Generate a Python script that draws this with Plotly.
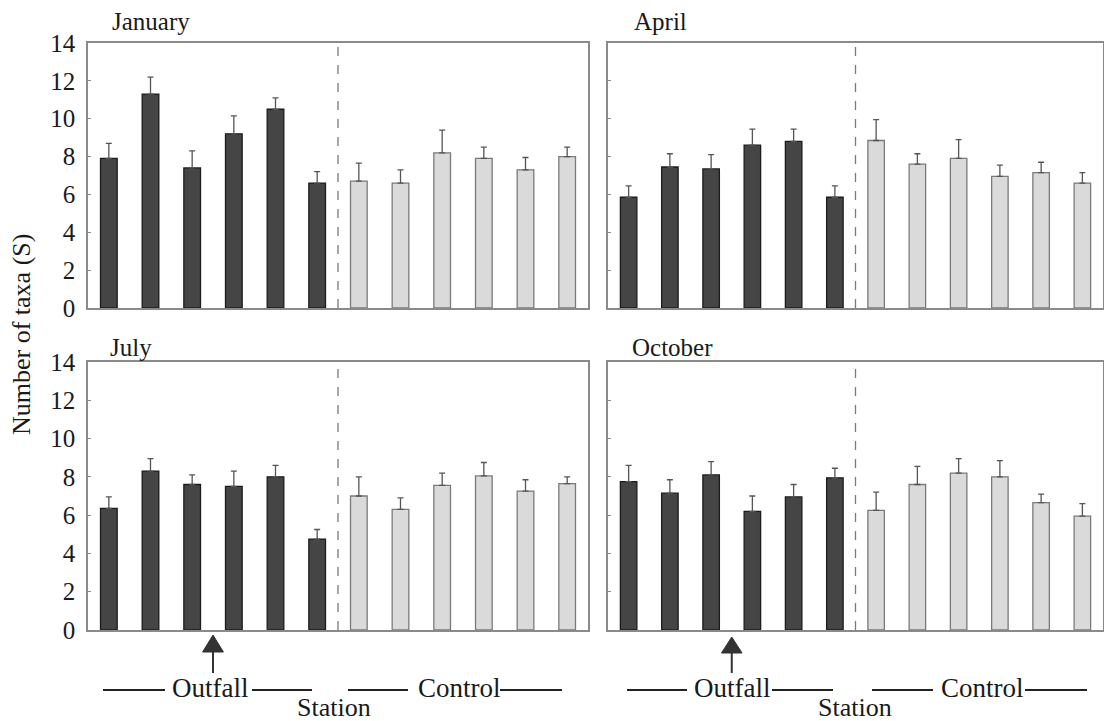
import plotly.graph_objects as go

# ---- data: mean number of taxa (S) and standard error per station ----
stations = list(range(1, 13))          # stations 1-6 outfall, 7-12 control
n_outfall = 6
months = ["January", "April", "July", "October"]

jan_mean = [7.9, 11.3, 7.4, 9.2, 10.5, 6.6, 6.7, 6.6, 8.2, 7.9, 7.3, 8.0]
jan_se = [0.8, 0.9, 0.9, 0.95, 0.6, 0.6, 0.95, 0.7, 1.2, 0.6, 0.65, 0.5]
apr_mean = [5.85, 7.45, 7.35, 8.6, 8.8, 5.85, 8.85, 7.6, 7.9, 6.95, 7.15, 6.6]
apr_se = [0.6, 0.7, 0.75, 0.85, 0.65, 0.6, 1.1, 0.55, 1.0, 0.6, 0.55, 0.55]
jul_mean = [6.35, 8.3, 7.6, 7.5, 8.0, 4.75, 7.0, 6.3, 7.55, 8.05, 7.25, 7.65]
jul_se = [0.6, 0.65, 0.5, 0.8, 0.6, 0.5, 1.0, 0.6, 0.65, 0.7, 0.6, 0.35]
oct_mean = [7.75, 7.15, 8.1, 6.2, 6.95, 7.95, 6.25, 7.6, 8.2, 8.0, 6.65, 5.95]
oct_se = [0.85, 0.7, 0.7, 0.8, 0.65, 0.5, 0.95, 0.95, 0.75, 0.85, 0.45, 0.65]

y_ticks = [0, 2, 4, 6, 8, 10, 12, 14]
outfall_position = 2.5                 # outfall location between stations 3 and 4

W, H = 1104, 721
FONT = "Liberation Serif, Times New Roman, serif"
TXT = "#1a1a1a"
FRAME = "#8a8a8a"
DARK_FILL, DARK_LINE = "#454545", "#1c1c1c"
LIGHT_FILL, LIGHT_LINE = "#dadada", "#7a7a7a"


def px(x):
    return x / W


def py(y):
    return 1 - y / H


# panel domains (paper fractions)
dom_x = {1: [px(88), px(588)], 2: [px(608), px(1103)],
         3: [px(88), px(588)], 4: [px(608), px(1103)]}
dom_y = {1: [py(308), py(43)], 2: [py(308), py(43)],
         3: [py(630), py(362)], 4: [py(630), py(362)]}

panels = [(jan_mean, jan_se), (apr_mean, apr_se), (jul_mean, jul_se), (oct_mean, oct_se)]

fig = go.Figure()
x_idx = [s - 1 for s in stations]

for k, (mean, se) in enumerate(panels, start=1):
    xa = "x" if k == 1 else f"x{k}"
    ya = "y" if k == 1 else f"y{k}"
    groups = [
        (x_idx[:n_outfall], mean[:n_outfall], se[:n_outfall], DARK_FILL, DARK_LINE),
        (x_idx[n_outfall:], mean[n_outfall:], se[n_outfall:], LIGHT_FILL, LIGHT_LINE),
    ]
    for xs, ms, es, fill, line in groups:
        fig.add_trace(go.Bar(
            x=xs, y=ms, width=0.4, xaxis=xa, yaxis=ya,
            marker=dict(color=fill, line=dict(color=line, width=1.3)),
            error_y=dict(type="data", symmetric=False, array=es,
                         arrayminus=[0] * len(es), color="#555555",
                         thickness=1.3, width=3),
            showlegend=False, hoverinfo="skip",
        ))

layout = dict(
    width=W, height=H,
    margin=dict(l=0, r=0, t=0, b=0, autoexpand=False),
    paper_bgcolor="white", plot_bgcolor="white",
    barmode="overlay", showlegend=False,
    font=dict(family=FONT, color=TXT, size=24),
)
for k in range(1, 5):
    sx = "" if k == 1 else str(k)
    layout[f"xaxis{sx}"] = dict(
        domain=dom_x[k], range=[-0.5, 11.5], anchor=f"y{sx}",
        showticklabels=False, showgrid=False, zeroline=False,
        showline=True, mirror=True, linecolor=FRAME, linewidth=1.6,
        ticks="", fixedrange=True, automargin=False,
    )
    layout[f"yaxis{sx}"] = dict(
        domain=dom_y[k], range=[0, 14], anchor=f"x{sx}",
        tickvals=y_ticks, showticklabels=(k in (1, 3)),
        tickfont=dict(family=FONT, size=25, color=TXT),
        ticks="inside", ticklen=3, tickcolor=FRAME, ticklabelstandoff=6,
        showgrid=False, zeroline=False,
        showline=True, mirror=True, linecolor=FRAME, linewidth=1.6,
        fixedrange=True, automargin=False,
    )
fig.update_layout(**layout)

# dashed divider between outfall and control stations
for k in range(1, 5):
    sx = "" if k == 1 else str(k)
    fig.add_shape(type="line", xref=f"x{sx}", yref=f"y{sx} domain",
                  x0=5.5, x1=5.5, y0=0, y1=1,
                  line=dict(color="#7a7a7a", width=1.3, dash="dash"))

# month titles
titles = [(months[0], 110, 22), (months[1], 632, 22), (months[2], 108, 347), (months[3], 630, 347)]
for text, x, y in titles:
    fig.add_annotation(text=text, x=px(x), y=py(y), xref="paper", yref="paper",
                       xanchor="left", yanchor="middle", showarrow=False,
                       font=dict(family=FONT, size=25, color=TXT))

# y-axis title
fig.add_annotation(text="Number of taxa (S)", x=px(21), y=py(335),
                   xref="paper", yref="paper", textangle=-90,
                   xanchor="center", yanchor="middle", showarrow=False,
                   font=dict(family=FONT, size=26, color=TXT))

# outfall arrows under the bottom panels
for k, tip, base in [(3, 635, 652), (4, 637, 653)]:
    xr = f"x{k}"
    fig.add_shape(type="path", xref=xr, yref="paper",
                  path=(f"M {outfall_position - 0.25},{py(base)} "
                        f"L {outfall_position + 0.25},{py(base)} "
                        f"L {outfall_position},{py(tip)} Z"),
                  fillcolor="#333333", line=dict(color="#333333", width=1))
    fig.add_shape(type="line", xref=xr, yref="paper",
                  x0=outfall_position, x1=outfall_position, y0=py(base), y1=py(673),
                  line=dict(color="#333333", width=2))

# station group labels with rules
label_sets = [
    # (segments, outfall text centre, control text centre, station centre)
    ([(103, 165), (252, 312), (348, 408), (500, 562)], 210, 459, 334),
    ([(627, 687), (772, 833), (872, 933), (1025, 1087)], 732, 982, 855),
]
for segs, ox, cx, sxc in label_sets:
    for a, b in segs:
        fig.add_shape(type="line", xref="paper", yref="paper",
                      x0=px(a), x1=px(b), y0=py(690), y1=py(690),
                      line=dict(color="#222222", width=2))
    fig.add_annotation(text="Outfall", x=px(ox), y=py(688), xref="paper", yref="paper",
                       showarrow=False, xanchor="center", yanchor="middle",
                       font=dict(family=FONT, size=27, color=TXT))
    fig.add_annotation(text="Control", x=px(cx), y=py(688), xref="paper", yref="paper",
                       showarrow=False, xanchor="center", yanchor="middle",
                       font=dict(family=FONT, size=27, color=TXT))
    fig.add_annotation(text="Station", x=px(sxc), y=py(707), xref="paper", yref="paper",
                       showarrow=False, xanchor="center", yanchor="middle",
                       font=dict(family=FONT, size=26, color=TXT))

fig.write_html("out.html")
